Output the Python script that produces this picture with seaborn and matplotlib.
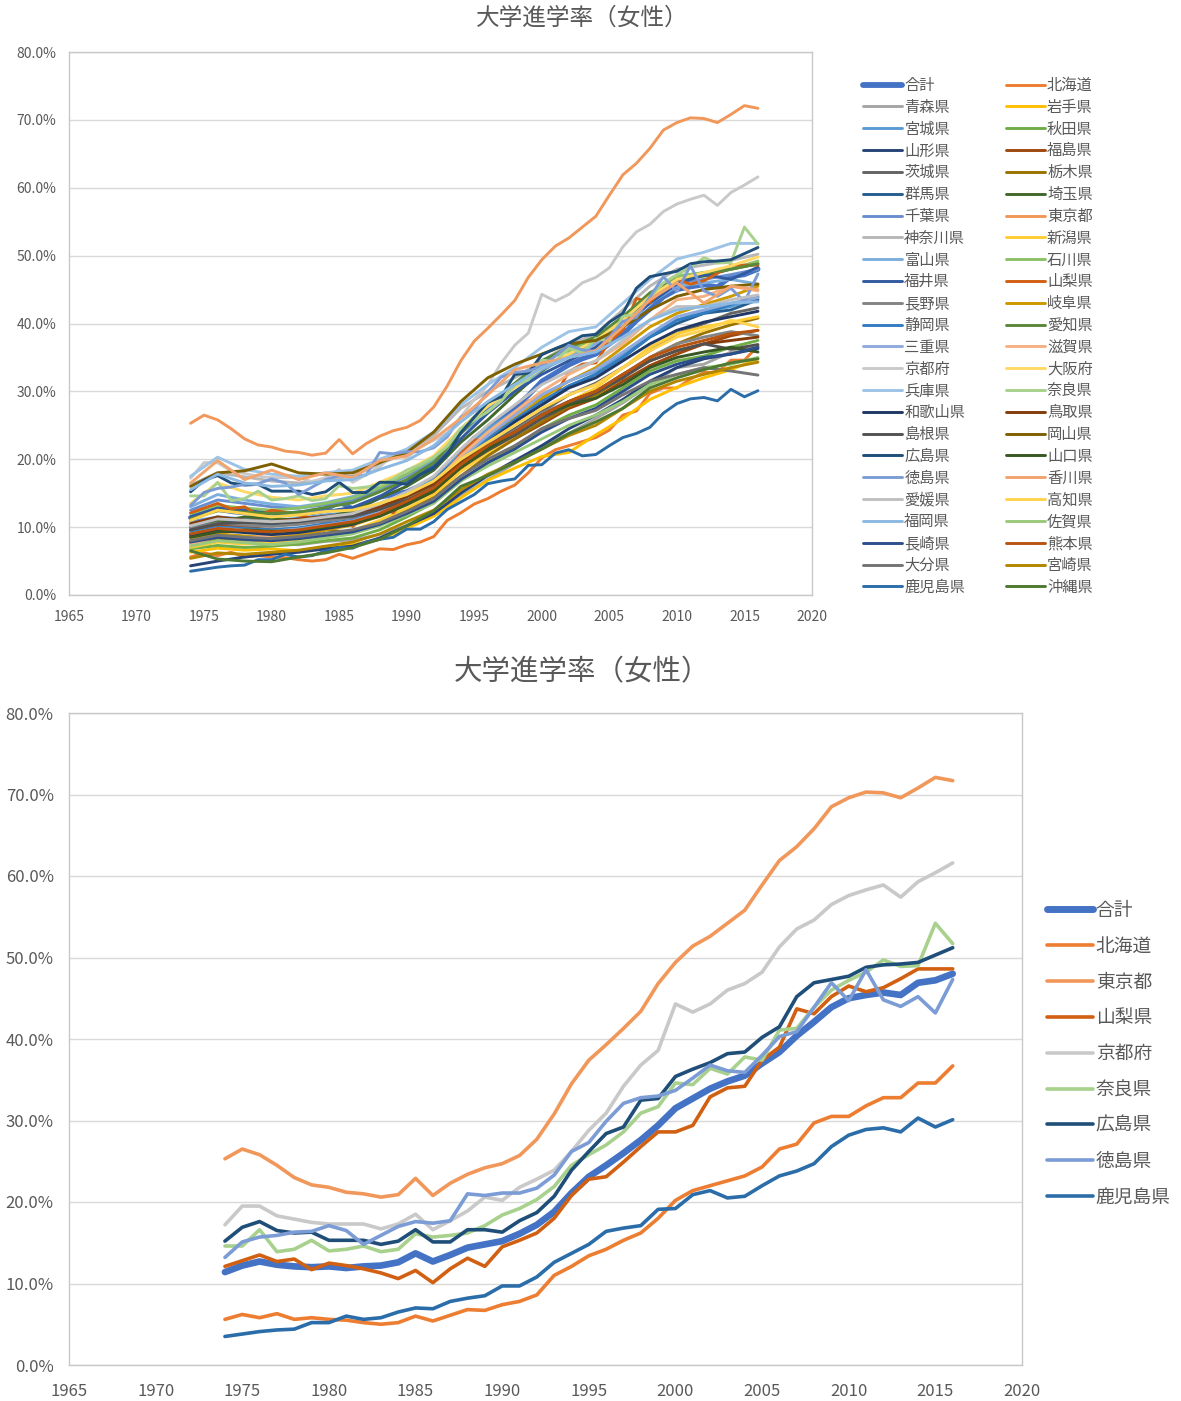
import matplotlib
matplotlib.use("Agg")
import matplotlib.pyplot as plt
from matplotlib.lines import Line2D
from matplotlib.ticker import FuncFormatter, MultipleLocator
import pandas as pd
import seaborn as sns

sns.set_style("white")
plt.rcParams["font.family"] = ["Noto Sans CJK JP", "DejaVu Sans"]

TITLE = "大学進学率（女性）"
YEARS = list(range(1974, 2017))          # yearly series
YEARS_2 = list(range(1974, 2017, 2))     # series read every second year

# --- series read from the lower (highlighted) chart, one value per year ---
goukei = [11.4, 12.2, 12.7, 12.3, 12.1, 12.0, 12.1, 11.9, 12.1, 12.2, 12.6,
          13.7, 12.7, 13.5, 14.4, 14.8, 15.2, 16.1, 17.2, 18.8, 21.1,
          23.1, 24.5, 26.0, 27.6, 29.4, 31.5, 32.7, 33.9, 34.8, 35.5,
          37.0, 38.4, 40.4, 42.1, 43.9, 45.0, 45.4, 45.7, 45.4, 46.9, 47.2, 48.0]
hokkaido = [5.6, 6.2, 5.8, 6.3, 5.6, 5.8, 5.6, 5.5, 5.2, 5.0, 5.2,
            6.0, 5.4, 6.1, 6.8, 6.7, 7.4, 7.8, 8.6, 11.0, 12.1,
            13.4, 14.2, 15.3, 16.2, 18.0, 20.2, 21.4, 22.0, 22.6, 23.2,
            24.3, 26.5, 27.1, 29.7, 30.5, 30.5, 31.8, 32.8, 32.8, 34.6, 34.6, 36.7]
tokyo = [25.3, 26.5, 25.8, 24.5, 23.0, 22.1, 21.8, 21.2, 21.0, 20.6, 20.9,
         22.9, 20.8, 22.3, 23.4, 24.2, 24.7, 25.7, 27.7, 30.8, 34.5,
         37.4, 39.3, 41.3, 43.4, 46.8, 49.4, 51.4, 52.6, 54.2, 55.8,
         58.9, 61.9, 63.6, 65.8, 68.5, 69.6, 70.3, 70.2, 69.6, 70.8, 72.1, 71.7]
yamanashi = [12.1, 12.8, 13.5, 12.7, 13.0, 11.7, 12.5, 12.2, 11.8, 11.3, 10.6,
             11.6, 10.1, 11.8, 13.1, 12.1, 14.5, 15.3, 16.2, 18.0, 20.8,
             22.8, 23.1, 24.9, 26.8, 28.6, 28.6, 29.4, 32.9, 34.0, 34.2,
             37.4, 39.0, 43.7, 43.1, 45.2, 46.5, 45.8, 46.3, 47.4, 48.6, 48.6, 48.6]
kyoto = [17.2, 19.5, 19.5, 18.3, 17.9, 17.5, 17.3, 17.3, 17.3, 16.7, 17.3,
         18.5, 16.6, 17.7, 18.9, 20.6, 20.2, 21.8, 22.8, 23.9, 26.2,
         28.8, 30.9, 34.2, 36.8, 38.6, 44.3, 43.3, 44.3, 46.0, 46.8,
         48.2, 51.3, 53.5, 54.6, 56.5, 57.6, 58.3, 58.9, 57.4, 59.3, 60.4, 61.6]
nara = [14.6, 14.6, 16.6, 13.9, 14.2, 15.3, 14.0, 14.2, 14.6, 13.9, 14.2,
        16.1, 15.7, 15.9, 16.2, 17.1, 18.4, 19.2, 20.3, 21.9, 24.5,
        25.8, 27.0, 28.6, 30.9, 31.7, 34.6, 34.4, 36.4, 35.7, 37.8,
        37.4, 41.1, 41.3, 43.9, 46.0, 47.2, 48.2, 49.7, 48.9, 49.0, 54.2, 51.7]
hiroshima = [15.2, 16.9, 17.6, 16.5, 16.2, 16.3, 15.3, 15.3, 15.3, 14.8, 15.2,
             16.6, 15.1, 15.1, 16.6, 16.6, 16.3, 17.7, 18.7, 20.7, 23.9,
             26.2, 28.4, 29.2, 32.5, 32.7, 35.4, 36.3, 37.1, 38.2, 38.4,
             40.2, 41.5, 45.2, 46.9, 47.3, 47.7, 48.8, 49.1, 49.2, 49.4, 50.3, 51.2]
tokushima = [13.2, 15.1, 15.7, 15.9, 16.3, 16.4, 17.1, 16.5, 14.8, 15.9, 17.0,
             17.6, 17.4, 17.7, 21.0, 20.8, 21.1, 21.1, 21.7, 23.3, 26.2,
             27.3, 29.9, 32.1, 32.8, 33.0, 33.7, 35.2, 36.8, 36.1, 35.9,
             38.0, 40.3, 40.9, 43.9, 46.9, 44.7, 48.5, 44.8, 44.0, 45.2, 43.2, 47.3]
kagoshima = [3.5, 3.8, 4.1, 4.3, 4.4, 5.2, 5.2, 6.0, 5.6, 5.8, 6.5,
             7.0, 6.9, 7.8, 8.2, 8.5, 9.7, 9.7, 10.8, 12.6, 13.7,
             14.8, 16.4, 16.8, 17.1, 19.1, 19.2, 20.9, 21.4, 20.5, 20.7,
             22.0, 23.2, 23.8, 24.7, 26.8, 28.2, 28.9, 29.1, 28.6, 30.3, 29.2, 30.1]

# --- remaining prefectures, estimated from the dense upper chart (every 2nd year) ---
aomori = [7.8, 8.3, 8.0, 7.6, 7.4, 7.9, 8.1, 8.9, 10.2, 11.9, 14.5, 17.0, 19.4, 22.0, 23.8, 26.0, 28.3, 31.0, 33.5, 34.0, 35.8, 36.5]
iwate = [6.3, 6.9, 6.6, 6.8, 6.5, 7.0, 7.4, 8.2, 9.8, 11.6, 14.3, 16.9, 18.7, 20.4, 21.0, 23.6, 26.0, 28.8, 30.6, 32.0, 33.2, 34.8]
miyagi = [10.8, 11.5, 11.2, 11.0, 11.3, 11.8, 12.2, 13.5, 15.0, 17.2, 21.0, 24.5, 27.0, 29.5, 31.5, 33.0, 35.5, 38.5, 40.5, 41.8, 42.5, 43.8]
akita = [6.8, 7.3, 7.0, 7.2, 7.5, 8.0, 8.4, 9.6, 11.5, 13.6, 16.8, 19.5, 21.8, 24.5, 26.5, 28.0, 30.5, 33.0, 34.5, 35.2, 36.5, 37.5]
yamagata = [4.3, 5.0, 5.6, 6.0, 6.3, 6.8, 7.2, 8.4, 10.2, 12.0, 15.0, 17.6, 19.8, 22.0, 24.5, 26.5, 28.8, 31.5, 33.5, 34.8, 35.5, 36.3]
fukushima = [9.5, 10.3, 10.0, 9.6, 9.8, 10.4, 10.8, 11.8, 13.4, 15.2, 18.5, 21.0, 23.0, 25.2, 27.5, 29.0, 31.5, 33.8, 35.5, 37.0, 38.2, 39.0]
ibaraki = [8.5, 9.2, 9.6, 9.3, 9.6, 10.2, 10.9, 12.0, 13.8, 15.8, 19.2, 22.0, 24.5, 27.0, 29.5, 31.2, 33.5, 36.0, 38.5, 40.0, 41.5, 42.3]
tochigi = [7.6, 8.4, 8.2, 8.0, 8.5, 9.6, 9.2, 10.5, 12.6, 14.5, 17.5, 20.5, 23.0, 25.5, 27.8, 29.5, 32.0, 35.0, 37.0, 38.6, 39.8, 40.8]
gunma = [10.0, 11.0, 10.7, 10.4, 10.6, 11.1, 11.5, 12.7, 14.6, 16.8, 20.5, 23.5, 26.0, 28.5, 30.8, 32.5, 35.0, 38.0, 40.0, 41.5, 42.0, 43.5]
saitama = [9.6, 10.8, 11.5, 11.3, 11.0, 11.4, 12.4, 14.3, 16.0, 18.4, 22.5, 25.8, 29.5, 33.0, 35.5, 37.3, 40.5, 43.8, 46.5, 47.0, 48.0, 48.8]
chiba = [12.5, 14.0, 13.5, 13.0, 12.8, 13.3, 13.9, 15.6, 17.5, 19.8, 24.0, 27.5, 31.0, 34.0, 36.5, 38.0, 41.0, 44.0, 46.0, 46.5, 47.2, 48.0]
kanagawa = [16.2, 18.0, 17.4, 16.8, 16.5, 17.0, 17.5, 19.3, 21.0, 23.5, 27.5, 30.0, 32.0, 34.5, 36.8, 38.5, 42.0, 45.5, 48.0, 48.6, 49.3, 50.2]
niigata = [7.0, 7.8, 7.5, 7.8, 8.2, 8.8, 9.5, 11.0, 12.8, 14.8, 18.2, 21.0, 23.5, 26.5, 28.5, 30.5, 33.5, 36.5, 38.5, 39.5, 40.2, 41.0]
toyama = [13.0, 14.8, 14.0, 13.4, 13.0, 13.6, 14.5, 16.0, 17.8, 20.0, 23.8, 27.0, 30.0, 33.2, 35.0, 37.0, 40.2, 43.0, 45.5, 46.0, 46.5, 45.8]
ishikawa = [12.0, 13.2, 12.8, 12.5, 12.8, 13.5, 14.3, 15.8, 17.8, 20.2, 24.5, 28.0, 31.0, 34.5, 36.0, 37.8, 41.0, 44.5, 47.0, 47.5, 48.0, 49.2]
fukui = [11.5, 12.8, 12.5, 12.0, 11.8, 12.3, 12.9, 14.5, 16.8, 19.0, 23.0, 26.8, 30.0, 32.5, 34.5, 36.5, 39.5, 43.0, 45.8, 47.2, 46.5, 48.3]
nagano = [9.8, 10.6, 10.3, 10.1, 10.4, 10.9, 11.4, 12.5, 14.0, 16.0, 19.0, 21.8, 24.2, 26.8, 28.5, 30.0, 32.5, 35.0, 37.0, 38.0, 38.8, 38.2]
gifu = [8.2, 9.0, 8.7, 8.5, 8.9, 9.6, 10.3, 11.6, 13.5, 15.6, 19.5, 22.8, 26.0, 29.0, 31.5, 33.5, 36.5, 39.5, 41.5, 42.8, 44.0, 45.5]
shizuoka = [9.2, 10.0, 9.8, 9.6, 9.9, 10.5, 11.0, 12.3, 14.2, 16.3, 19.8, 23.0, 25.8, 28.5, 30.8, 32.5, 35.0, 38.0, 40.5, 41.5, 42.8, 44.0]
aichi = [11.2, 12.4, 12.2, 12.0, 12.2, 12.9, 13.6, 15.2, 17.0, 19.5, 23.8, 27.8, 31.2, 34.5, 36.5, 38.0, 41.0, 44.5, 46.5, 47.5, 48.0, 48.8]
mie = [9.0, 9.8, 9.6, 9.4, 9.7, 10.3, 10.9, 12.2, 14.0, 16.2, 20.2, 23.5, 26.5, 29.5, 31.5, 33.2, 35.8, 38.5, 41.0, 42.0, 43.0, 43.8]
shiga = [7.5, 8.6, 8.4, 8.8, 9.2, 10.0, 10.6, 12.0, 14.0, 16.5, 20.5, 24.0, 27.0, 30.0, 32.5, 34.5, 37.0, 40.5, 43.5, 44.0, 45.5, 44.8]
osaka = [13.5, 16.5, 15.2, 14.4, 14.0, 14.6, 15.0, 16.6, 18.3, 20.5, 24.5, 27.8, 30.5, 33.5, 35.5, 37.5, 40.5, 44.0, 46.5, 47.5, 48.5, 49.8]
hyogo = [17.5, 20.3, 18.5, 17.8, 17.5, 18.0, 18.4, 20.0, 21.5, 24.0, 28.0, 31.0, 33.5, 36.5, 38.8, 39.5, 43.0, 46.5, 49.5, 50.5, 51.8, 51.8]
wakayama = [8.8, 9.5, 9.2, 8.9, 9.2, 9.8, 10.4, 11.8, 13.6, 15.8, 19.2, 22.5, 25.5, 28.0, 30.5, 32.0, 34.5, 37.0, 39.0, 40.2, 41.0, 41.8]
tottori = [10.5, 11.5, 11.0, 10.8, 11.2, 11.6, 11.9, 13.0, 14.5, 16.3, 19.5, 22.0, 24.0, 26.5, 28.5, 30.0, 32.5, 34.5, 36.0, 37.0, 37.5, 38.0]
shimane = [9.6, 10.5, 10.7, 10.6, 10.8, 11.3, 11.6, 12.6, 14.0, 15.8, 18.8, 21.3, 23.5, 26.0, 28.0, 29.8, 32.0, 34.5, 36.0, 37.0, 36.2, 36.9]
okayama = [16.0, 18.0, 18.3, 19.3, 18.0, 17.8, 18.0, 19.5, 21.0, 24.0, 28.5, 32.0, 34.0, 35.5, 37.0, 37.5, 39.5, 42.0, 44.0, 45.0, 45.5, 45.8]
yamaguchi = [8.5, 9.3, 9.6, 9.4, 9.5, 10.0, 10.5, 11.6, 13.3, 15.3, 18.8, 21.5, 24.0, 26.5, 28.0, 29.0, 31.0, 33.5, 35.0, 35.8, 36.5, 35.8]
kagawa = [16.5, 19.8, 17.0, 18.4, 17.0, 18.0, 17.3, 19.8, 20.5, 23.0, 26.0, 29.5, 33.2, 34.2, 35.0, 36.0, 39.5, 43.5, 46.0, 43.0, 45.5, 45.0]
ehime = [10.2, 11.2, 11.0, 10.8, 11.0, 11.5, 12.0, 13.4, 15.2, 17.5, 21.5, 25.0, 28.0, 31.0, 33.0, 34.5, 37.5, 40.5, 42.5, 42.5, 43.5, 44.2]
kochi = [11.0, 12.5, 12.0, 11.5, 11.8, 12.3, 12.5, 13.5, 14.8, 16.8, 20.0, 22.5, 25.0, 27.5, 29.5, 31.0, 33.5, 36.0, 38.0, 39.0, 40.5, 39.5]
fukuoka = [15.5, 17.8, 16.5, 16.0, 16.2, 16.8, 17.0, 18.5, 19.8, 22.0, 25.5, 28.5, 31.0, 33.5, 35.0, 35.8, 38.0, 40.5, 42.0, 42.5, 43.0, 43.2]
saga = [7.2, 8.0, 7.7, 7.4, 7.8, 8.4, 9.0, 10.2, 11.8, 13.5, 16.8, 19.0, 21.0, 23.0, 25.0, 26.5, 28.5, 31.0, 32.5, 33.5, 34.0, 35.0]
nagasaki = [7.8, 8.5, 8.2, 8.0, 8.3, 8.8, 9.3, 10.4, 12.0, 13.8, 17.0, 19.5, 21.5, 24.0, 26.0, 27.5, 30.0, 32.5, 34.0, 35.0, 35.5, 36.5]
kumamoto = [9.0, 9.8, 9.5, 9.3, 9.6, 10.2, 10.8, 12.0, 13.8, 15.8, 19.2, 22.0, 24.0, 26.5, 28.5, 30.0, 32.5, 35.0, 36.5, 37.5, 38.5, 39.0]
oita = [8.0, 8.8, 8.5, 8.3, 8.6, 9.1, 9.6, 10.6, 12.3, 14.2, 17.5, 20.0, 22.0, 24.5, 26.0, 27.2, 29.5, 31.5, 32.5, 33.5, 33.0, 32.4]
miyazaki = [5.4, 6.2, 6.0, 6.3, 6.6, 7.2, 7.8, 9.0, 10.8, 12.5, 15.5, 17.8, 19.5, 21.5, 23.5, 25.0, 27.5, 30.0, 31.5, 32.5, 33.5, 34.3]
okinawa = [6.5, 5.3, 5.0, 4.9, 5.6, 6.2, 7.0, 8.2, 10.2, 12.4, 16.0, 17.6, 19.5, 21.5, 23.8, 25.5, 27.5, 30.5, 32.0, 33.2, 34.2, 34.8]

NAMES = ["合計", "北海道", "青森県", "岩手県", "宮城県", "秋田県", "山形県", "福島県",
         "茨城県", "栃木県", "群馬県", "埼玉県", "千葉県", "東京都", "神奈川県", "新潟県",
         "富山県", "石川県", "福井県", "山梨県", "長野県", "岐阜県", "静岡県", "愛知県",
         "三重県", "滋賀県", "京都府", "大阪府", "兵庫県", "奈良県", "和歌山県", "鳥取県",
         "島根県", "岡山県", "広島県", "山口県", "徳島県", "香川県", "愛媛県", "高知県",
         "福岡県", "佐賀県", "長崎県", "熊本県", "大分県", "宮崎県", "鹿児島県", "沖縄県"]
VALUES = [goukei, hokkaido, aomori, iwate, miyagi, akita, yamagata, fukushima,
          ibaraki, tochigi, gunma, saitama, chiba, tokyo, kanagawa, niigata,
          toyama, ishikawa, fukui, yamanashi, nagano, gifu, shizuoka, aichi,
          mie, shiga, kyoto, osaka, hyogo, nara, wakayama, tottori,
          shimane, okayama, hiroshima, yamaguchi, tokushima, kagawa, ehime, kochi,
          fukuoka, saga, nagasaki, kumamoto, oita, miyazaki, kagoshima, okinawa]
HIGHLIGHT = ["合計", "北海道", "東京都", "山梨県", "京都府", "奈良県", "広島県", "徳島県", "鹿児島県"]

# Excel office palette, series 1..48
COLORS = ["#4472C4", "#ED7D31", "#A5A5A5", "#FFC000", "#5B9BD5", "#70AD47",
          "#264478", "#9E480E", "#636363", "#997300", "#255E91", "#43682B",
          "#698ED0", "#F1975A", "#B7B7B7", "#FFCD33", "#7CAFDD", "#8CC168",
          "#325AA0", "#D26012", "#848484", "#CC9A00", "#327DC2", "#5A8A39",
          "#8FAADC", "#F4B183", "#C9C9C9", "#FFD966", "#9DC3E6", "#A9D18E",
          "#203864", "#843C0C", "#525252", "#7F6000", "#1F4E79", "#385723",
          "#7C9CD6", "#F2A46F", "#C0C0C0", "#FFD34D", "#8CB9E2", "#9AC97B",
          "#2C4F8C", "#B85410", "#747474", "#B38600", "#2B6DA9", "#4E7932"]
PALETTE = dict(zip(NAMES, COLORS))

rows = []
for name, vals in zip(NAMES, VALUES):
    yrs = YEARS if len(vals) == len(YEARS) else YEARS_2
    rows += [(name, y, v) for y, v in zip(yrs, vals)]
df = pd.DataFrame(rows, columns=["pref", "year", "rate"])

TEXT = "#595959"


def draw(ax, names, lw, lw_total, tick_size, xpad, ypad):
    for name in names:
        sub = df[df["pref"] == name]
        sns.lineplot(data=sub, x="year", y="rate", ax=ax, color=PALETTE[name],
                     linewidth=lw_total if name == "合計" else lw, label=name,
                     estimator=None, sort=False,
                     solid_capstyle="round", solid_joinstyle="round")
    if ax.get_legend() is not None:
        ax.get_legend().remove()
    ax.set_xlim(1965, 2020)
    ax.set_ylim(0, 80)
    ax.xaxis.set_major_locator(MultipleLocator(5))
    ax.yaxis.set_major_locator(MultipleLocator(10))
    ax.yaxis.set_major_formatter(FuncFormatter(lambda v, _: f"{v:.1f}%"))
    ax.grid(axis="y", color="#D9D9D9", linewidth=1.0)
    ax.grid(axis="x", visible=False)
    ax.set_axisbelow(True)
    for s in ax.spines.values():
        s.set_visible(True)
        s.set_color("#C8C8C8")
        s.set_linewidth(1.0)
    ax.tick_params(length=0, labelsize=tick_size, labelcolor=TEXT)
    ax.tick_params(axis="x", pad=xpad)
    ax.tick_params(axis="y", pad=ypad)
    ax.set_xlabel("")
    ax.set_ylabel("")


def handles_for(names, lw, lw_total):
    return [Line2D([], [], color=PALETTE[n], linewidth=lw_total if n == "合計" else lw,
                   solid_capstyle="round") for n in names]


fig = plt.figure(figsize=(11.81, 14.01), dpi=100)
fig.patch.set_facecolor("white")

# ---- upper chart: all prefectures ----
ax1 = fig.add_axes([69 / 1181, 1 - 595 / 1401, (812 - 69) / 1181, (595 - 52) / 1401])
draw(ax1, NAMES, 2.1, 3.6, 10, 11, 9)
fig.text(582 / 1181, 1 - 18 / 1401, TITLE, ha="center", va="center",
         fontsize=17, color=TEXT)

order = NAMES[0::2] + NAMES[1::2]
fig.legend(handles_for(order, 2.1, 4.2), order, loc="upper left",
           bbox_to_anchor=(863 / 1181, 1 - 77 / 1401), ncol=2, frameon=False,
           fontsize=11, handlelength=2.55, handletextpad=0.15, columnspacing=2.65,
           labelspacing=0.315, borderpad=0, borderaxespad=0, labelcolor=TEXT)

# ---- lower chart: highlighted prefectures ----
ax2 = fig.add_axes([69 / 1181, 1 - 1365 / 1401, (1022 - 69) / 1181, (1365 - 713) / 1401])
draw(ax2, HIGHLIGHT, 2.6, 4.8, 12, 13, 11)
fig.text(582 / 1181, 1 - 672 / 1401, TITLE, ha="center", va="center",
         fontsize=20.5, color=TEXT)

fig.legend(handles_for(HIGHLIGHT, 2.6, 5.0), HIGHLIGHT, loc="upper left",
           bbox_to_anchor=(1047 / 1181, 1 - 900 / 1401), ncol=1, frameon=False,
           fontsize=13.5, handlelength=2.45, handletextpad=0.15,
           labelspacing=0.79, borderpad=0, borderaxespad=0, labelcolor=TEXT)

fig.savefig("out.png", dpi=100, facecolor="white")
